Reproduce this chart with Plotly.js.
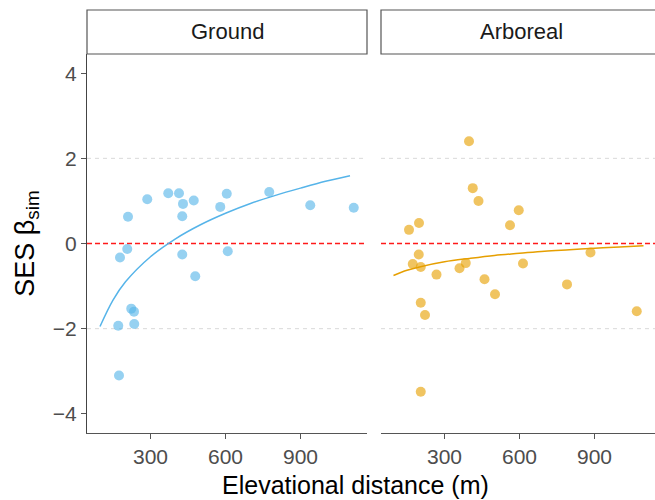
<!DOCTYPE html>
<html>
<head>
<meta charset="utf-8">
<script src="https://cdn.plot.ly/plotly-3.0.1.min.js"></script>
<style>html,body{margin:0;padding:0;overflow:hidden;background:#fff;}</style>
</head>
<body>
<div id="chart" style="width:655px;height:500px;"></div>
<script>
// Ground panel points
const groundX = [287, 371, 414, 430, 473, 427, 210, 579, 605, 775, 939, 1113, 207, 178, 427, 609, 479, 223, 234, 171, 235, 174];
const groundY = [1.04, 1.18, 1.18, 0.93, 1.01, 0.64, 0.63, 0.86, 1.17, 1.21, 0.90, 0.84, -0.13, -0.33, -0.26, -0.18, -0.77, -1.53, -1.60, -1.93, -1.89, -3.10];
// Arboreal panel points
const arborX = [398, 413, 436, 597, 562, 158, 198, 197, 173, 205, 268, 360, 385, 614, 460, 502, 790, 884, 205, 222, 1069, 205];
const arborY = [2.40, 1.30, 1.00, 0.78, 0.43, 0.32, 0.48, -0.26, -0.48, -0.55, -0.73, -0.58, -0.46, -0.47, -0.84, -1.19, -0.96, -0.21, -1.39, -1.68, -1.59, -3.48];
// Fitted curves
const groundFitX = [98, 150, 200, 300, 400, 500, 600, 700, 800, 900, 1000, 1098];
const groundFitY = [-1.95, -1.33, -0.90, -0.31, 0.11, 0.44, 0.71, 0.94, 1.13, 1.30, 1.46, 1.59];
const arborFitX = [96, 150, 200, 300, 400, 500, 600, 700, 800, 900, 1000, 1096];
const arborFitY = [-0.75, -0.63, -0.55, -0.43, -0.35, -0.28, -0.23, -0.18, -0.145, -0.11, -0.08, -0.05];
// Labels
const panelNames = ["Ground", "Arboreal"];
const xTicks = [300, 600, 900];
const yTicks = [-4, -2, 0, 2, 4];
const yTickText = ["\u22124", "\u22122", "0", "2", "4"];
const xTitle = "Elevational distance (m)";
const yTitle = "SES \u03b2<sub>sim</sub>";

const FONT = "Liberation Sans, Arial, sans-serif";
const blue = "#56B4E9", orange = "#E69F00", red = "#ff1a1a";

const traces = [
  {x: groundX, y: groundY, xaxis: "x", yaxis: "y", mode: "markers", type: "scatter",
   marker: {size: 10, color: blue, opacity: 0.62}, hoverinfo: "skip"},
  {x: groundFitX, y: groundFitY, xaxis: "x", yaxis: "y", mode: "lines", type: "scatter",
   line: {color: blue, width: 1.5, shape: "spline"}, hoverinfo: "skip"},
  {x: arborX, y: arborY, xaxis: "x2", yaxis: "y2", mode: "markers", type: "scatter",
   marker: {size: 10, color: orange, opacity: 0.62}, hoverinfo: "skip"},
  {x: arborFitX, y: arborFitY, xaxis: "x2", yaxis: "y2", mode: "lines", type: "scatter",
   line: {color: orange, width: 1.5, shape: "spline"}, hoverinfo: "skip"}
];

const W = 568, d1 = 280 / W, d2 = 294 / W;
const xaxisBase = {
  range: [46, 1166], tickvals: xTicks, ticks: "outside", ticklen: 5, tickcolor: "#555",
  tickwidth: 1, showline: true, linecolor: "#555", linewidth: 1.2, showgrid: false,
  zeroline: false, tickfont: {family: FONT, size: 21, color: "#4d4d4d"}, fixedrange: true
};
const shapes = [];
const panels = [[0, d1, "y"], [d2, 1, "y2"]];
panels.forEach(([a, b, yr]) => {
  [2, -2].forEach(v => shapes.push({type: "line", xref: "paper", yref: yr, x0: a, x1: b, y0: v, y1: v,
    line: {color: "#d9d9d9", width: 1, dash: "4px,4px"}, layer: "below"}));
  shapes.push({type: "line", xref: "paper", yref: yr, x0: a, x1: b, y0: 0, y1: 0,
    line: {color: red, width: 1.4, dash: "5px,3px"}, layer: "below"});
});
const stripTop = (433 - 10) / 379;
shapes.push({type: "rect", xref: "paper", yref: "paper", x0: 0, x1: d1, y0: 1.0, y1: stripTop,
  line: {color: "#555", width: 1.2}, fillcolor: "#fff"});
shapes.push({type: "rect", xref: "paper", yref: "paper", x0: d2, x1: 1.03, y0: 1.0, y1: stripTop,
  line: {color: "#555", width: 1.2}, fillcolor: "#fff"});

const annotations = [
  {text: panelNames[0], xref: "paper", yref: "paper", x: d1 / 2, y: (1 + stripTop) / 2, showarrow: false,
   font: {family: FONT, size: 22, color: "#1a1a1a"}, xanchor: "center", yanchor: "middle"},
  {text: panelNames[1], xref: "paper", yref: "paper", x: d2 + d1 / 2, y: (1 + stripTop) / 2, showarrow: false,
   font: {family: FONT, size: 22, color: "#1a1a1a"}, xanchor: "center", yanchor: "middle"},
  {text: xTitle, xref: "paper", yref: "paper", x: (355 - 87) / W, y: (433 - 485) / 379, showarrow: false,
   font: {family: FONT, size: 25, color: "#000"}, xanchor: "center", yanchor: "middle"}
];

const layout = {
  width: 655, height: 500,
  margin: {l: 87, r: 0, t: 54, b: 67, pad: 0},
  paper_bgcolor: "#fff", plot_bgcolor: "#fff",
  showlegend: false,
  xaxis: Object.assign({}, xaxisBase, {domain: [0, d1], anchor: "y"}),
  xaxis2: Object.assign({}, xaxisBase, {domain: [d2, 1], anchor: "y2", range: [46, 1142]}),
  yaxis: {range: [-4.45, 4.45], tickvals: yTicks, ticktext: yTickText, ticks: "outside", ticklen: 5,
    tickcolor: "#555", showline: true, linecolor: "#444", linewidth: 1.2, showgrid: false, zeroline: false,
    tickfont: {family: FONT, size: 21, color: "#4d4d4d"}, domain: [0, 1], anchor: "x", fixedrange: true,
    title: {text: yTitle, font: {family: FONT, size: 27, color: "#000"}, standoff: 10}},
  yaxis2: {range: [-4.45, 4.45], matches: "y", showticklabels: false, ticks: "", showline: false,
    showgrid: false, zeroline: false, domain: [0, 1], anchor: "x2", fixedrange: true},
  shapes: shapes,
  annotations: annotations
};

Plotly.newPlot("chart", traces, layout, {displayModeBar: false, staticPlot: true});
</script>
</body>
</html>
